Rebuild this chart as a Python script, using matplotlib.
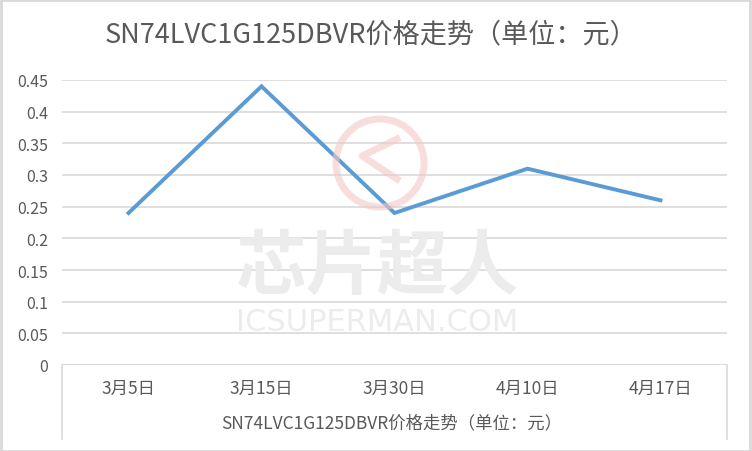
import matplotlib.pyplot as plt
from matplotlib.patches import Rectangle, Circle
from matplotlib.lines import Line2D

plt.rcParams['font.family'] = ['Noto Sans CJK SC', 'DejaVu Sans']

# 数据
dates = ['3月5日', '3月15日', '3月30日', '4月10日', '4月17日']
prices = [0.24, 0.44, 0.24, 0.31, 0.26]
y_ticks = [0, 0.05, 0.1, 0.15, 0.2, 0.25, 0.3, 0.35, 0.4, 0.45]
y_labels = ['0', '0.05', '0.1', '0.15', '0.2', '0.25', '0.3', '0.35', '0.4', '0.45']
title = 'SN74LVC1G125DBVR价格走势（单位：元）'

W, H = 752, 452
fig = plt.figure(figsize=(7.52, 4.52), dpi=100)
ax = fig.add_axes([62 / W, 1 - 366 / H, 665 / W, 285 / H])

grid_c = '#d9d9d9'
text_c = '#595959'

ax.plot(range(len(dates)), prices, color='#5b9bd5', linewidth=2.8,
        solid_joinstyle='miter', zorder=3)
ax.set_xlim(-0.5, len(dates) - 0.5)
ax.set_ylim(0, 0.45)
ax.set_yticks(y_ticks)
ax.set_yticklabels(y_labels, fontsize=11.5, color=text_c)
ax.set_xticks([])
ax.tick_params(axis='y', length=0, pad=10)
ax.grid(axis='y', color=grid_c, linewidth=1.2)
for s in ax.spines.values():
    s.set_visible(False)
ax.axhline(0, color=grid_c, linewidth=1.2)

# 分类轴标签
for i, d in enumerate(dates):
    ax.text(i, -0.036, d, ha='center', va='center', fontsize=12.5, color=text_c)
ax.text(392 / W, 1 - 423 / H, title, transform=fig.transFigure,
        ha='center', va='center', fontsize=12.5, color=text_c)

# 分类轴边框
for x in (62, 727):
    fig.add_artist(Line2D([x / W, x / W], [1 - 366 / H, 1 - 440 / H],
                          color=grid_c, linewidth=1.2))

# 标题
fig.text(371 / W, 1 - 35 / H, title, ha='center', va='center',
         fontsize=19.5, color=text_c)

# 水印
fig.add_artist(Circle((3.80, 4.52 - 1.64), 0.44, transform=fig.dpi_scale_trans,
                      fill=False, edgecolor='#f4c7c7', linewidth=5, alpha=0.6))
fig.add_artist(Line2D([3.97, 3.62, 3.97], [3.12, 2.95, 2.72],
                      transform=fig.dpi_scale_trans, color='#f4c7c7',
                      linewidth=5, alpha=0.6))
fig.text(377 / W, 1 - 268 / H, '芯片超人', ha='center', va='center',
         fontsize=51, fontweight='bold', style='italic', color='#ececec', zorder=0)
fig.text(377 / W, 1 - 323 / H, 'ICSUPERMAN.COM', ha='center', va='center',
         fontsize=22, color='#ececec', zorder=0, family=['DejaVu Sans'])

# 外框
fig.add_artist(Rectangle((0.001, 0.001), 0.997, 0.997, transform=fig.transFigure,
                         fill=False, edgecolor='#d9d9d9', linewidth=2))

fig.savefig('out.png', dpi=100)
